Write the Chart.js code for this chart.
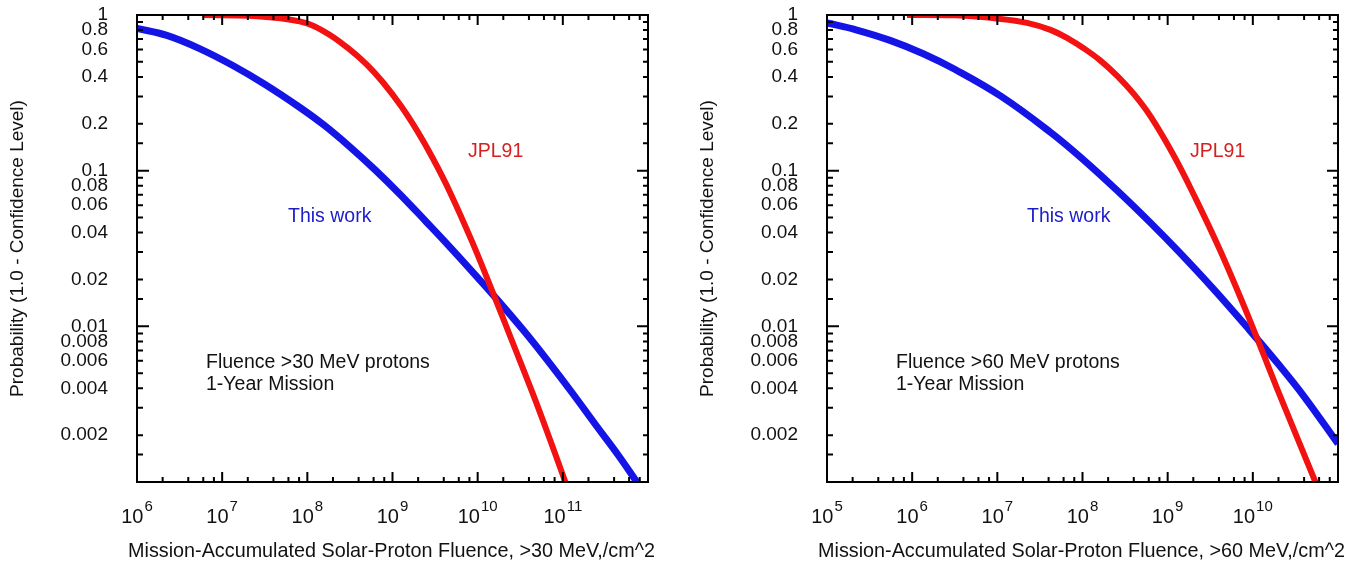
<!DOCTYPE html>
<html><head><meta charset="utf-8">
<script src="https://cdn.jsdelivr.net/npm/chart.js@4.4.1/dist/chart.umd.min.js"></script>
<style>
html,body{margin:0;padding:0;background:#fff;overflow:hidden;width:1361px;height:567px}
canvas{position:absolute;top:0}
</style></head><body>
<canvas id="c1" width="680" height="567" style="left:0px"></canvas>
<canvas id="c2" width="680" height="567" style="left:690px"></canvas>
<script>
// ---------- data ----------
// Left panel: > 30 MeV
const jpl30Fluence  = [5.9e6, 2.1e7, 8.1e7, 1.6e8, 3.16e8, 5.0e8, 7.8e8, 1.26e9, 1.95e9, 2.95e9, 4.7e9, 8.5e9, 1.5e10, 2.5e10, 4.5e10, 7.1e10, 1.07e11];
const jpl30Prob     = [1.0,   0.99,  0.91,  0.78,  0.60,   0.48,  0.367, 0.260,  0.180,  0.121,  0.0733, 0.0355, 0.0166, 0.0082, 0.00363, 0.00186, 0.001];
const work30Fluence = [1.0e6, 2.24e6, 5.5e6, 1.35e7, 3.16e7, 8.1e7, 1.58e8, 3.16e8, 6.3e8, 1.23e9, 2.5e9, 4.7e9, 1.0e10, 2.0e10, 4.0e10, 7.1e10, 1.26e11, 2.5e11, 4.5e11, 7.4e11];
const work30Prob    = [0.82,  0.739,  0.606, 0.472,  0.359,  0.2555, 0.1956, 0.1423, 0.1008, 0.0703, 0.0468, 0.0324, 0.02055, 0.01339, 0.00855, 0.00574, 0.0038, 0.00228, 0.00148, 0.001];
// Right panel: > 60 MeV
const jpl60Fluence  = [8.7e5, 3.16e6, 1.1e7, 2.24e7, 4.2e7, 7.1e7, 1.02e8, 1.6e8, 2.57e8, 4.0e8, 6.3e8, 1.17e9, 2.04e9, 4.1e9, 9.1e9, 1.9e10, 5.43e10];
const jpl60Prob     = [1.0,   0.995,  0.944, 0.89,   0.802, 0.695, 0.614,  0.513, 0.405,  0.311, 0.223, 0.126,  0.0695, 0.031, 0.01114, 0.00406, 0.001];
const work60Fluence = [1e5,   2.24e5, 5.5e5,  1.35e6, 3.16e6, 1.1e7, 4.2e7,  1.02e8, 2.57e8, 6.3e8,  1.35e9, 3.4e9,   9.1e9,   2.0e10, 4.0e10,  1.0e11];
const work60Prob    = [0.889, 0.801,  0.6874, 0.564,  0.448,  0.301, 0.1765, 0.1178, 0.0743, 0.0462, 0.0302, 0.01753, 0.00949, 0.0057, 0.00354, 0.00176];

// ---------- tick labels ----------
const yTickValues = [1, 0.8, 0.6, 0.4, 0.2, 0.1, 0.08, 0.06, 0.04, 0.02, 0.01, 0.008, 0.006, 0.004, 0.002];
const yTickLabels = ['1', '0.8', '0.6', '0.4', '0.2', '0.1', '0.08', '0.06', '0.04', '0.02', '0.01', '0.008', '0.006', '0.004', '0.002'];
const yMinorMantissa = [1.5, 2, 3, 4, 5, 6, 7, 8, 9];
const xMinorMantissa = [2, 4, 6, 8];
const xLabelExps30 = [6, 7, 8, 9, 10, 11];
const xLabelExps60 = [5, 6, 7, 8, 9, 10];

const FONT = '"Liberation Sans", Arial, Helvetica, sans-serif';

const framePlugin = {
  id: 'frame',
  afterDatasetsDraw(chart, args, opts) {
    const ctx = chart.ctx, a = chart.chartArea;
    const xs = chart.scales.x, ys = chart.scales.y;
    ctx.save();
    ctx.strokeStyle = '#000';
    ctx.lineWidth = 2;
    ctx.strokeRect(a.left, a.top, a.right - a.left, a.bottom - a.top);
    ctx.beginPath();
    const yE0 = Math.round(Math.log10(ys.min)), yE1 = Math.round(Math.log10(ys.max));
    for (let e = yE0; e <= yE1; e++) {
      const py = ys.getPixelForValue(Math.pow(10, e));
      ctx.moveTo(a.left, py); ctx.lineTo(a.left + 12, py);
      ctx.moveTo(a.right, py); ctx.lineTo(a.right - 11, py);
      if (e < yE1) yMinorMantissa.forEach(m => {
        const p = ys.getPixelForValue(m * Math.pow(10, e));
        ctx.moveTo(a.left, p); ctx.lineTo(a.left + 6, p);
        ctx.moveTo(a.right, p); ctx.lineTo(a.right - 5, p);
      });
    }
    const xE0 = Math.round(Math.log10(xs.min)), xE1 = Math.round(Math.log10(xs.max));
    for (let e = xE0; e <= xE1; e++) {
      const px = xs.getPixelForValue(Math.pow(10, e));
      ctx.moveTo(px, a.bottom); ctx.lineTo(px, a.bottom - 10);
      ctx.moveTo(px, a.top); ctx.lineTo(px, a.top + 10);
      if (e < xE1) xMinorMantissa.forEach(m => {
        const p = xs.getPixelForValue(m * Math.pow(10, e));
        ctx.moveTo(p, a.bottom); ctx.lineTo(p, a.bottom - 5);
        ctx.moveTo(p, a.top); ctx.lineTo(p, a.top + 5);
      });
    }
    ctx.stroke();

    // x tick labels: 10 with raised exponent
    ctx.fillStyle = '#111';
    ctx.textBaseline = 'alphabetic';
    ctx.textAlign = 'left';
    opts.exps.forEach(e => {
      const px = xs.getPixelForValue(Math.pow(10, e));
      ctx.font = '20px ' + FONT;
      const wb = ctx.measureText('10').width;
      ctx.font = '15px ' + FONT;
      const we = ctx.measureText(String(e)).width;
      const x0 = px - (wb + 1 + we) / 2;
      ctx.font = '20px ' + FONT;
      ctx.fillText('10', x0, 523);
      ctx.font = '15px ' + FONT;
      ctx.fillText(String(e), x0 + wb + 1, 511);
    });

    // x axis title
    ctx.font = '19.8px ' + FONT;
    ctx.textAlign = 'center';
    ctx.fillStyle = '#111';
    ctx.fillText(opts.xTitle, (a.left + a.right) / 2 - 1, 557);

    // annotations
    ctx.textAlign = 'left';
    ctx.font = '19.5px ' + FONT;
    opts.notes.forEach(n => {
      ctx.fillStyle = n.color;
      ctx.fillText(n.text, n.x, n.y);
    });
    ctx.restore();
  }
};

function pts(xs, ys) { return xs.map((x, i) => ({x: x, y: ys[i]})); }

function makeChart(id, jplX, jplY, workX, workY, xmin, xmax, exps, xTitle, notes) {
  return new Chart(document.getElementById(id), {
    type: 'scatter',
    data: {
      datasets: [
        {label: 'JPL91', data: pts(jplX, jplY), showLine: true, borderColor: '#f21212', backgroundColor: '#f21212',
         borderWidth: 6, pointRadius: 0, tension: 0.4},
        {label: 'This work', data: pts(workX, workY), showLine: true, borderColor: '#1414e6', backgroundColor: '#1414e6',
         borderWidth: 7, pointRadius: 0, tension: 0.4}
      ]
    },
    options: {
      responsive: false, animation: false, devicePixelRatio: 1,
      layout: {padding: {top: 15, right: 32, left: 0, bottom: 0}},
      plugins: {legend: {display: false}, tooltip: {enabled: false}, frame: {exps: exps, notes: notes, xTitle: xTitle}},
      scales: {
        x: {
          type: 'logarithmic', min: xmin, max: xmax,
          grid: {display: false, drawTicks: false}, border: {display: false},
          ticks: {display: false},
          afterFit(s) { s.height = 85; s.paddingLeft = 0; s.paddingRight = 0; }
        },
        y: {
          type: 'logarithmic', min: 0.001, max: 1,
          grid: {display: false, drawTicks: false}, border: {display: false},
          afterBuildTicks(s) { s.ticks = yTickValues.map(v => ({value: v})); },
          ticks: {autoSkip: false, padding: 29, color: '#111', font: {family: FONT, size: 19},
                  callback: (v, i) => yTickLabels[i]},
          title: {display: true, text: 'Probability (1.0 - Confidence Level)', color: '#111', font: {family: FONT, size: 19}, padding: {top: 6, bottom: 0}},
          afterFit(s) { s.width = 137; s.paddingTop = 0; s.paddingBottom = 0; }
        }
      }
    },
    plugins: [framePlugin]
  });
}

makeChart('c1', jpl30Fluence, jpl30Prob, work30Fluence, work30Prob, 1e6, 1e12, xLabelExps30,
  'Mission-Accumulated Solar-Proton Fluence, >30 MeV,/cm^2',
  [{text: 'JPL91', color: '#d42020', x: 468, y: 157},
   {text: 'This work', color: '#1c1cc8', x: 288, y: 222},
   {text: 'Fluence >30 MeV protons', color: '#111', x: 206, y: 368},
   {text: '1-Year Mission', color: '#111', x: 206, y: 390}]);

makeChart('c2', jpl60Fluence, jpl60Prob, work60Fluence, work60Prob, 1e5, 1e11, xLabelExps60,
  'Mission-Accumulated Solar-Proton Fluence, >60 MeV,/cm^2',
  [{text: 'JPL91', color: '#d42020', x: 500, y: 157},
   {text: 'This work', color: '#1c1cc8', x: 337, y: 222},
   {text: 'Fluence >60 MeV protons', color: '#111', x: 206, y: 368},
   {text: '1-Year Mission', color: '#111', x: 206, y: 390}]);
</script>
</body></html>
